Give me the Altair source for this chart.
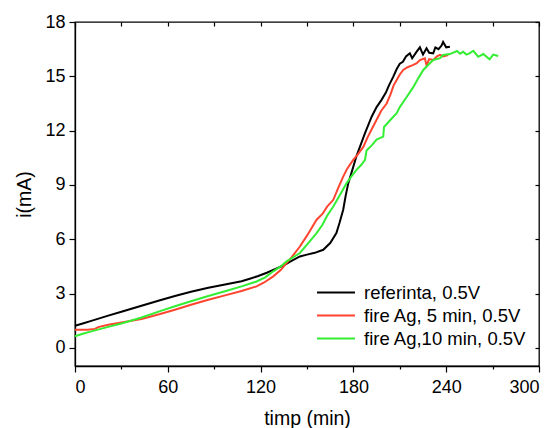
import altair as alt
import pandas as pd

series_names = ["referinta, 0.5V", "fire Ag, 5 min, 0.5V", "fire Ag,10 min, 0.5V"]
series_colors = ["#000000", "#ff4530", "#33ee33"]

ref_t = [0, 5, 10, 21.5, 30, 43, 55, 64.6, 75, 86.2, 97, 107.7, 113, 118.5, 124, 129.3,
         134.7, 140, 145.4, 150, 155, 160.5, 165, 169, 171, 173.4, 175, 176.7, 179.9, 182,
         184.2, 187.5, 191.8, 195, 198.2, 201, 203, 205.8, 208, 210, 212, 214, 216.5, 218,
         220.9, 223, 225, 227.3, 229, 231.6, 233, 235, 237, 238, 240, 242.4]
ref_v = [1.22, 1.35, 1.48, 1.78, 2.0, 2.33, 2.63, 2.87, 3.1, 3.32, 3.5, 3.68, 3.82, 3.97, 4.15, 4.35,
         4.55, 4.8, 5.05, 5.15, 5.25, 5.42, 5.79, 6.34, 6.9, 7.63, 8.4, 9.1, 10.0, 10.6,
         11.1, 11.86, 12.77, 13.3, 13.7, 14.1, 14.5, 14.98, 15.4, 15.7, 15.8, 16.1, 16.27, 16.0,
         16.36, 16.6, 16.2, 16.55, 16.3, 16.27, 16.6, 16.5, 16.7, 16.9, 16.6, 16.63]

ag5_t = [0, 8, 12.9, 15, 21.5, 30, 43, 55, 64.6, 75, 86.2, 97, 107.7, 117.4, 122, 128.2, 133,
         136.8, 140, 145.4, 150, 156.2, 160, 163, 167, 170, 173.4, 176, 180, 183, 186.4, 189,
         192, 195, 198, 201.5, 204, 206, 208, 210, 212.2, 215, 218, 221, 223, 226.2, 227.3,
         229, 231.6, 234, 236, 238, 241.3]
ag5_v = [1.0, 1.0, 1.05, 1.15, 1.28, 1.4, 1.6, 1.87, 2.11, 2.38, 2.66, 2.9, 3.14, 3.4, 3.6, 3.95, 4.3,
         4.69, 5.0, 5.6, 6.2, 7.08, 7.4, 7.8, 8.18, 8.8, 9.46, 9.9, 10.4, 10.7, 11.1, 11.6,
         12.1, 12.6, 13.1, 13.5, 14.0, 14.5, 14.8, 15.1, 15.35, 15.5, 15.6, 15.72, 15.9, 16.0, 15.6,
         15.95, 15.9, 16.1, 16.18, 16.1, 16.18]

ag10_t = [0, 5, 10, 21.5, 30, 43, 55, 64.6, 75, 86.2, 97, 107.7, 117.4, 123, 128.2, 133,
          136.8, 140, 145.4, 150, 156.2, 160, 163, 167, 171, 175.6, 179, 182, 185, 187.5,
          188.5, 192, 195, 199.3, 199.8, 204, 208, 210, 214, 218.7, 222, 225.2, 228, 231.6,
          236, 238, 242.4, 247, 249, 251, 253, 255, 257.5, 260.7, 264, 268, 270.4, 273.6]
ag10_v = [0.64, 0.78, 0.9, 1.16, 1.35, 1.68, 2.03, 2.3, 2.58, 2.87, 3.13, 3.4, 3.67, 3.9, 4.23, 4.5,
          4.78, 4.95, 5.24, 5.7, 6.34, 6.8, 7.3, 7.81, 8.4, 9.1, 9.5, 9.83, 10.1, 10.39,
          10.9, 11.2, 11.5, 11.67, 12.2, 12.6, 12.96, 13.3, 13.8, 14.4, 14.9, 15.35, 15.6, 15.9,
          16.0, 16.18, 16.23, 16.4, 16.25, 16.36, 16.2, 16.27, 16.41, 16.08, 16.23, 15.94, 16.2, 16.12]

x_ticks = [0, 30, 60, 90, 120, 150, 180, 210, 240, 270, 300]
y_ticks = [0, 3, 6, 9, 12, 15, 18]

rows = []
for name, ts, vs in zip(series_names, [ref_t, ag5_t, ag10_t], [ref_v, ag5_v, ag10_v]):
    for t, v in zip(ts, vs):
        rows.append({"t": t, "v": v, "series": name})
df = pd.DataFrame(rows)

FONT = "Liberation Sans"
xscale = alt.Scale(domain=[0, 300], nice=False, zero=False)
yscale = alt.Scale(domain=[-1, 18], nice=False, zero=False)

lines = alt.Chart(df).mark_line(strokeWidth=2).encode(
    x=alt.X("t:Q", scale=xscale, axis=alt.Axis(
        orient="bottom", values=x_ticks, title="timp (min)",
        labelExpr="datum.value % 60 === 0 ? datum.label : ''",
        tickSize={"condition": {"test": "datum.value % 60 === 0", "value": 6}, "value": 3},
        labelPadding=6, titlePadding=13, grid=False,
        labelFont=FONT, titleFont=FONT, labelFontSize=18, titleFontSize=19.5,
        titleFontWeight="normal")),
    y=alt.Y("v:Q", scale=yscale, axis=alt.Axis(
        orient="left", values=y_ticks, title="i(mA)", tickSize=6,
        labelPadding=4, titlePadding=10, grid=False,
        labelFont=FONT, titleFont=FONT, labelFontSize=18, titleFontSize=19.5,
        titleFontWeight="normal")),
    color=alt.Color("series:N", scale=alt.Scale(domain=series_names, range=series_colors),
                    legend=alt.Legend(orient="none", legendX=248.5, legendY=258, title=None,
                                      symbolType="M-1.65,0H1.65", symbolSize=529,
                                      symbolStrokeWidth=2,
                                      labelFontSize=18.5, labelFont=FONT, labelOffset=15.5,
                                      labelColor="#000000",
                                      padding=0, rowPadding=1, labelLimit=300)),
)

ghost = alt.Chart(df).mark_line(opacity=0).encode(
    x=alt.X("t:Q", scale=xscale, axis=alt.Axis(
        orient="top", values=x_ticks, labels=False, title=None, domain=False,
        tickSize=4, offset=-4, grid=False)),
    y=alt.Y("v:Q", scale=yscale, axis=alt.Axis(
        orient="right", values=y_ticks, labels=False, title=None, domain=False,
        tickSize=4, offset=-4, grid=False)),
    detail="series:N",
)

chart = alt.layer(lines, ghost).resolve_axis(x="independent", y="independent").properties(
    width=464, height=344,
    background="white",
    autosize=alt.AutoSizeParams(type="none"),
    padding={"left": 75, "top": 22, "right": 16, "bottom": 62},
).configure_view(stroke="#000000", strokeWidth=1.3).configure_axis(
    labelColor="#000000", titleColor="#000000",
    domainColor="#000000", domainWidth=1.3, tickColor="#000000", tickWidth=1.2,
)

chart.save("out.html", embed_options={"renderer": "svg", "actions": False})
